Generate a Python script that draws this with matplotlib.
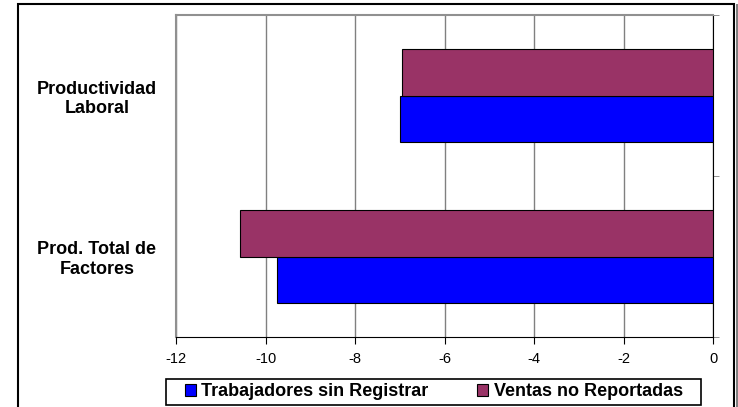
import numpy as np
import matplotlib.pyplot as plt
from matplotlib.patches import Rectangle

plt.rcParams['font.family'] = ['Liberation Sans', 'DejaVu Sans']

categories = ['Productividad\nLaboral', 'Prod. Total de\nFactores']
trabajadores = [-7.0, -9.74]
ventas = [-6.95, -10.56]
series_names = ['Trabajadores sin Registrar', 'Ventas no Reportadas']
xticks = [-12, -10, -8, -6, -4, -2, 0]

fig = plt.figure(figsize=(7.38, 4.07), dpi=100)
# outer chart border with a grey shadow on the right
fig.patches.append(Rectangle((736 / 738, -0.01), 2 / 738, 1.0,
                             transform=fig.transFigure, facecolor='#808080',
                             edgecolor='none'))
fig.patches.append(Rectangle((18 / 738, -0.01), 716 / 738, 403.5 / 407 + 0.01,
                             transform=fig.transFigure, fill=False,
                             edgecolor='black', linewidth=1.5))
# legend box
fig.patches.append(Rectangle((166 / 738, 2 / 407), 535 / 738, 26 / 407,
                             transform=fig.transFigure, fill=False,
                             edgecolor='black', linewidth=1.2))
ax = fig.add_axes([176 / 738, 70 / 407, 537 / 738, 322 / 407])

y = np.arange(len(categories))
h = 0.286
ax.barh(y + h / 2, trabajadores, height=h, color='#0000FF',
        edgecolor='black', linewidth=0.8, label=series_names[0], zorder=3)
ax.barh(y - h / 2, ventas, height=h, color='#993366',
        edgecolor='black', linewidth=0.8, label=series_names[1], zorder=3)

ax.set_xlim(-12, 0)
ax.set_ylim(1.5, -0.5)
ax.set_xticks(xticks)
ax.set_xticklabels([str(t) for t in xticks], fontsize=10.5)
ax.xaxis.grid(True, color='#808080', linewidth=1, zorder=0)

ax.set_yticks(y)
ax.set_yticklabels(categories, fontsize=13, fontweight='bold',
                   ha='center', multialignment='center')
ax.tick_params(axis='y', which='major', length=0, pad=57)
ax.set_yticks([-0.5, 0.5, 1.5], minor=True)
ax.tick_params(axis='y', which='minor', left=False, right=True,
               length=4, direction='out', color='#808080')
ax.tick_params(axis='x', length=5, direction='out', pad=6)

for s in ['top', 'left']:
    ax.spines[s].set_color('#909090')
    ax.spines[s].set_linewidth(1.5)
ax.spines['bottom'].set_color('black')
ax.spines['right'].set_color('black')

fig.legend(loc='center', bbox_to_anchor=(434 / 738, 15 / 407), ncol=2,
           frameon=False, prop={'weight': 'bold', 'size': 13},
           handlelength=0.6, handleheight=0.6, handletextpad=0.3,
           columnspacing=2.7, borderpad=0, borderaxespad=0)

fig.savefig('out.png', dpi=100)
